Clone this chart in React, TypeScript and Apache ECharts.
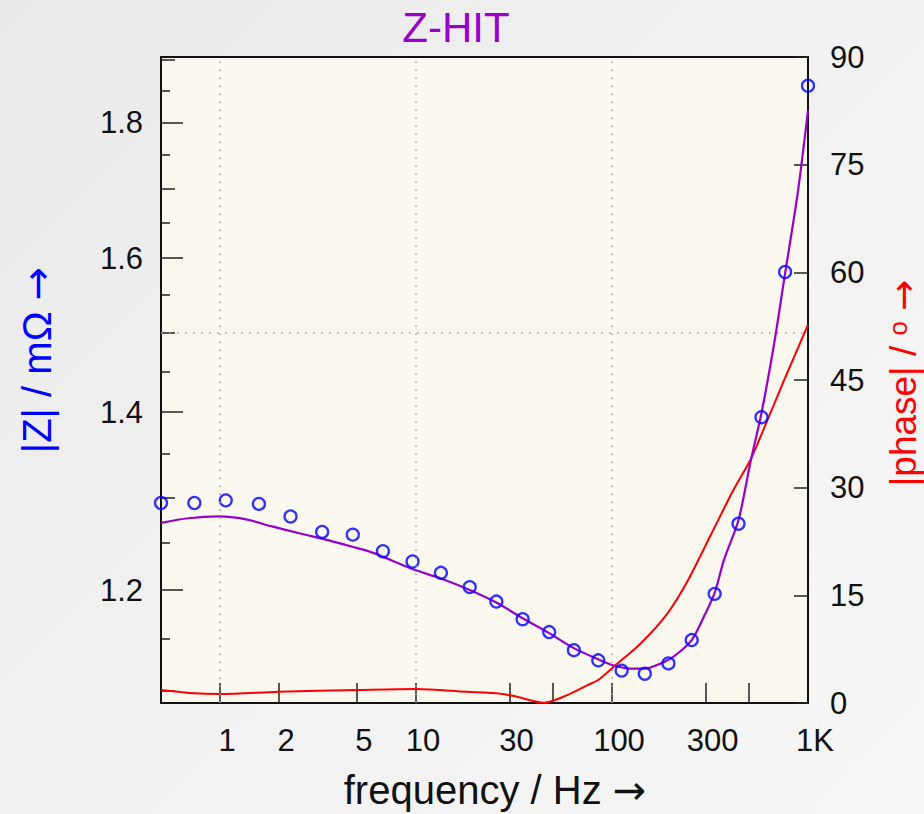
import React, { useEffect, useRef } from "react";
import * as echarts from "echarts";

// measured |Z| (circles)
const measFreq = [0.5, 0.74, 1.07, 1.58, 2.29, 3.32, 4.76, 6.78, 9.6, 13.4, 18.8, 25.7, 35, 47.8, 63.9, 85.1, 112, 147, 194, 255, 334, 442, 579, 764, 1000];
const measZ = [1.294, 1.294, 1.297, 1.293, 1.279, 1.262, 1.259, 1.241, 1.230, 1.218, 1.203, 1.188, 1.170, 1.157, 1.139, 1.129, 1.119, 1.116, 1.126, 1.149, 1.196, 1.271, 1.394, 1.581, 1.858];

// Z-HIT fit |Z| (purple)
const fitFreq = [0.5, 0.69, 0.98, 1.34, 1.84, 2.6, 3.7, 4.9, 6.1, 9.6, 13.4, 18.8, 25.7, 35, 47.8, 63.9, 85, 102, 124, 147, 177, 207, 255, 295, 334, 373, 442, 511, 579, 672, 764, 885, 1000];
const fitZ = [1.272, 1.277, 1.279, 1.276, 1.268, 1.260, 1.252, 1.245, 1.239, 1.222, 1.212, 1.200, 1.187, 1.171, 1.156, 1.141, 1.130, 1.124, 1.121, 1.121, 1.126, 1.133, 1.149, 1.173, 1.197, 1.232, 1.275, 1.343, 1.399, 1.486, 1.579, 1.692, 1.819];

// |phase| (red)
const phaseFreq = [0.5, 0.7, 1, 2, 5, 10, 18, 27, 33, 45, 59, 75, 85, 102, 140, 192, 243, 319, 417, 511, 597, 756, 1000];
const phaseDeg = [1.8, 1.4, 1.25, 1.57, 1.81, 1.95, 1.57, 1.3, 0.85, 0.05, 1.1, 2.5, 3.2, 5.06, 8.3, 12.5, 17.0, 23.4, 29.7, 34.0, 38.3, 45.0, 52.7];

// axis ticks / labels
const xTickValues = [1, 2, 5, 10, 30, 50, 100, 300, 500];
const xLabelValues = [1, 2, 5, 10, 30, 100, 300, 1000];
const zMajor = [1.2, 1.4, 1.6, 1.8];
const zMedium = [1.1, 1.3, 1.5, 1.7, 1.9];
const zMinor = [1.15, 1.25, 1.35, 1.45, 1.55, 1.65, 1.75, 1.85];
const gridFreq = [1, 10, 100];
const gridZ = [1.5];

const FONT = '"Liberation Sans", Arial, sans-serif';
const ARROW_FONT = '"DejaVu Sans", sans-serif';
const PURPLE = "#9900cc";
const BLUE = "#0000ff";
const RED = "#ff0000";

export default function App() {
  const ref = useRef<HTMLDivElement>(null);

  useEffect(() => {
    if (!ref.current) return;
    const chart = echarts.init(ref.current, undefined, { renderer: "svg" });

    const zAxisBase = {
      type: "log" as const,
      position: "left" as const,
      min: 1.088,
      max: 1.905,
      axisLine: { show: false },
      splitLine: { show: false },
      minorTick: { show: false },
    };
    const tickStyle = { color: "#222", width: 1.5 };
    const arrowRich = (color: string, size: number) => ({
      arr: { fontFamily: ARROW_FONT, fontSize: size, fill: color, color },
    });

    chart.setOption({
      animation: false,
      grid: {
        left: 161,
        right: 116,
        top: 57,
        bottom: 111,
        show: true,
        backgroundColor: "#fbf8f0",
        borderColor: "#111",
        borderWidth: 2,
      },
      xAxis: {
        type: "log",
        min: 0.5,
        max: 1000,
        axisLine: { show: false },
        splitLine: { show: false },
        axisTick: {
          show: true,
          inside: true,
          length: 20,
          customValues: xTickValues,
          lineStyle: tickStyle,
        },
        axisLabel: {
          customValues: xLabelValues,
          formatter: (v: number) => (v >= 1000 ? "1K" : String(v)),
          fontSize: 31,
          fontFamily: FONT,
          color: "#111",
          margin: 22,
          padding: [0, 0, 0, 14],
        },
      },
      yAxis: [
        {
          ...zAxisBase,
          axisTick: { show: true, inside: true, length: 22, customValues: zMajor, lineStyle: tickStyle },
          axisLabel: {
            customValues: zMajor,
            formatter: (v: number) => v.toFixed(1),
            fontSize: 31,
            fontFamily: FONT,
            color: "#111",
            margin: 18,
          },
        },
        {
          ...zAxisBase,
          axisTick: { show: true, inside: true, length: 14, customValues: zMedium, lineStyle: tickStyle },
          axisLabel: { show: false },
        },
        {
          ...zAxisBase,
          axisTick: { show: true, inside: true, length: 9, customValues: zMinor, lineStyle: tickStyle },
          axisLabel: { show: false },
        },
        {
          type: "value",
          position: "right",
          min: 0,
          max: 90,
          interval: 15,
          axisLine: { show: false },
          splitLine: { show: false },
          axisTick: { show: true, inside: true, length: 14, lineStyle: tickStyle },
          axisLabel: { fontSize: 31, fontFamily: FONT, color: "#111", margin: 22 },
        },
      ],
      series: [
        {
          type: "line",
          name: "phase",
          yAxisIndex: 3,
          data: phaseFreq.map((f, i) => [f, phaseDeg[i]]),
          showSymbol: false,
          symbol: "none",
          smooth: 0.3,
          lineStyle: { color: RED, width: 2 },
          z: 3,
        },
        {
          type: "line",
          name: "fit",
          yAxisIndex: 0,
          data: fitFreq.map((f, i) => [f, fitZ[i]]),
          showSymbol: false,
          symbol: "none",
          smooth: 0.3,
          lineStyle: { color: PURPLE, width: 2.2 },
          z: 3,
          markLine: {
            silent: true,
            symbol: "none",
            label: { show: false },
            lineStyle: { color: "#999", type: [1.5, 6.5], width: 1.5 },
            data: [
              ...gridFreq.map((f) => ({ xAxis: f })),
              ...gridZ.map((z) => ({ yAxis: z })),
            ],
          },
        },
        {
          type: "scatter",
          name: "|Z|",
          yAxisIndex: 0,
          data: measFreq.map((f, i) => [f, measZ[i]]),
          symbol: "circle",
          symbolSize: 12,
          itemStyle: { color: "rgba(0,0,0,0)", borderColor: BLUE, borderWidth: 2.3 },
          z: 4,
        },
      ],
      graphic: [
        {
          type: "text",
          x: 456,
          y: 27,
          style: { text: "Z-HIT", fontSize: 42, fontFamily: FONT, fill: PURPLE, align: "center", verticalAlign: "middle" },
        },
        {
          type: "text",
          x: 495,
          y: 790,
          style: {
            text: "frequency / Hz {arr|→}",
            fontSize: 40,
            fontFamily: FONT,
            fill: "#111",
            align: "center",
            verticalAlign: "middle",
            rich: arrowRich("#111", 40),
          },
        },
        {
          type: "text",
          x: 37,
          y: 360,
          rotation: Math.PI / 2,
          style: {
            text: "|Z| / mΩ {arr|→}",
            fontSize: 40,
            fontFamily: FONT,
            fill: BLUE,
            align: "center",
            verticalAlign: "middle",
            rich: arrowRich(BLUE, 40),
          },
        },
        {
          type: "text",
          x: 903,
          y: 383,
          rotation: Math.PI / 2,
          style: {
            text: "|phase| / {sup|o} {arr|→}",
            fontSize: 37,
            fontFamily: FONT,
            fill: RED,
            align: "center",
            verticalAlign: "middle",
            rich: {
              ...arrowRich(RED, 37),
              sup: { fontFamily: FONT, fontSize: 26, fill: RED, color: RED, verticalAlign: "top", lineHeight: 26 },
            },
          },
        },
      ],
    });

    return () => chart.dispose();
  }, []);

  return (
    <div
      style={{
        position: "absolute",
        left: 0,
        top: 0,
        width: 924,
        height: 814,
        background: "linear-gradient(135deg, #e9e9e9 0%, #f1f1f1 50%, #f6f6f6 100%)",
      }}
    >
      <div ref={ref} style={{ width: 924, height: 814 }} />
    </div>
  );
}
